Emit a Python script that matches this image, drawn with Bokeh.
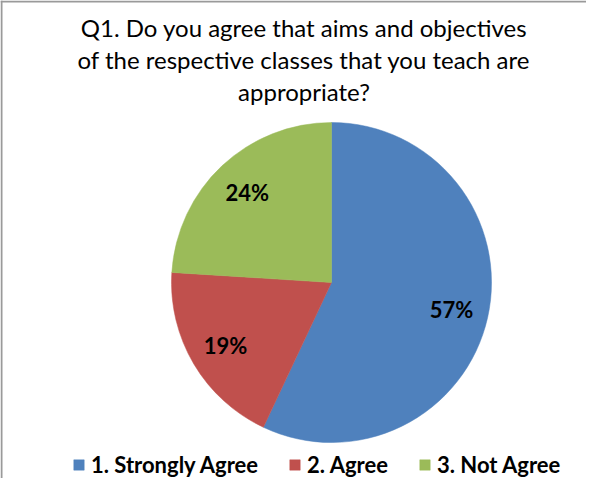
import math
from bokeh.plotting import figure
from bokeh.models import ColumnDataSource, Legend, LegendItem, Span
from bokeh.core.properties import value
from bokeh.embed import file_html
from bokeh.resources import INLINE

# ---- data ----
categories = ["1. Strongly Agree", "2. Agree", "3. Not Agree"]
percents = [57, 19, 24]
colors = ["#4F81BD", "#C0504D", "#9BBB59"]
title_lines = [
    "Q1. Do you agree that aims and objectives",
    "of the respective classes that you teach are",
    "appropriate?",
]

# ---- layout (pixels) ----
W, H = 586, 478
CX, CY = 331, 196      # pie centre
R = 160
LABEL_R = 123
FONT = "Lato"

p = figure(width=W, height=H, x_range=(0, W), y_range=(0, H),
           output_backend="svg", toolbar_location=None,
           x_axis_type=None, y_axis_type=None, min_border=0)
p.grid.visible = False
p.outline_line_color = None
p.background_fill_color = "white"
p.border_fill_color = "white"

total = sum(percents)
starts, ends, mids = [], [], []
cum = 0.0
for v in percents:
    a0 = math.pi / 2 - cum / total * 2 * math.pi
    cum += v
    a1 = math.pi / 2 - cum / total * 2 * math.pi
    starts.append(a0)
    ends.append(a1)
    mids.append((a0 + a1) / 2)

src = ColumnDataSource(dict(cat=categories, val=percents, color=colors,
                            start=starts, end=ends))
wr = p.wedge(x=CX, y=CY, radius=R, start_angle="start", end_angle="end",
             direction="clock", fill_color="color", line_color="color",
             line_width=0.5, source=src)

# percentage labels
lsrc = ColumnDataSource(dict(
    x=[CX + LABEL_R * math.cos(m) for m in mids],
    y=[CY + LABEL_R * math.sin(m) for m in mids],
    t=[f"{v}%" for v in percents]))
p.text(x="x", y="y", text="t", source=lsrc, text_align="center",
       text_baseline="middle", text_font=value(FONT), text_font_style="bold",
       text_font_size="22px", text_color="black")

# title
tsrc = ColumnDataSource(dict(x=[303.5] * 3, y=[451 - 32 * i for i in range(3)],
                             t=title_lines))
p.text(x="x", y="y", text="t", source=tsrc, text_align="center",
       text_baseline="alphabetic", text_font=value(FONT),
       text_font_size="24px", text_color="black")

# legend
items = [LegendItem(label=c, renderers=[wr], index=i) for i, c in enumerate(categories)]
legend = Legend(items=items, orientation="horizontal", location=(72, 0),
                glyph_width=13, glyph_height=13, label_standoff=6, spacing=30,
                padding=0, margin=0, border_line_color=None,
                background_fill_alpha=0,
                label_text_font=FONT, label_text_font_style="bold",
                label_text_font_size="22px", label_text_color="black")
p.add_layout(legend, "center")

# frame lines (left and top)
p.add_layout(Span(location=1, dimension="height", line_color="#9a9a9a", line_width=2))
p.add_layout(Span(location=H - 1, dimension="width", line_color="#9a9a9a", line_width=2))

open("out.html", "w").write(file_html(p, INLINE))
